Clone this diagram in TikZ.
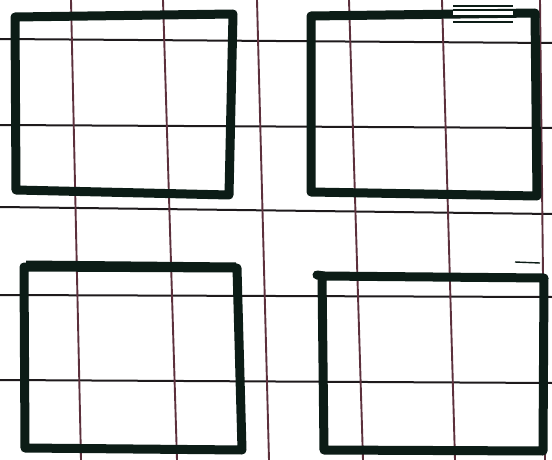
\documentclass[tikz,border=0pt]{standalone}
\definecolor{ink}{RGB}{12,28,22}
\definecolor{hline}{RGB}{30,26,28}
\definecolor{vline}{RGB}{92,48,60}
\tikzset{
  hguide/.style={draw=hline,line width=2pt},
  vguide/.style={draw=vline,line width=1.9pt},
  boxline/.style={draw=ink,line width=9pt,line join=round,line cap=round},
  markline/.style={draw=ink,line width=1.6pt}
}
\begin{document}
\begin{tikzpicture}[x=1pt,y=-1pt]
\useasboundingbox[fill=white] (0,0) rectangle (552,460);
% horizontal guides
\draw[hguide] (0,39) -- (552,43);
\draw[hguide] (0,125) -- (552,128);
\draw[hguide] (0,207) -- (552,214);
\draw[hguide] (0,295) -- (552,297);
\draw[hguide] (0,380) -- (552,383);
% vertical guides
\draw[vguide] (71,0) -- (81,460);
\draw[vguide] (163,0) -- (177,460);
\draw[vguide] (257,0) -- (269,460);
\draw[vguide] (349,0) -- (363,460);
\draw[vguide] (442,0) -- (455,460);
\draw[vguide] (540,0) -- (545,460);
% squares
\draw[boxline] (15,17) -- (233,14) -- (229,195) -- (16,190) -- cycle;
\draw[boxline] (311,16) -- (535,13) -- (537,196) -- (311,192) -- cycle;
\draw[boxline] (24,267) -- (237,268) -- (242,450) -- (25,448) -- cycle;
\draw[draw=ink,line width=5pt] (26,263) -- (236,265);
\draw[boxline] (322,276) -- (544,278) -- (543,451) -- (324,450) -- cycle;
\draw[boxline] (317,275) -- (324,276);
\draw[draw=ink,line width=1.4pt] (515,262) -- (540,263);
% mark on top-right square
\fill[white] (453,10) rectangle (513,16);
\draw[markline] (453,6) -- (513,6);
\draw[markline] (453,10) -- (513,10);
\draw[markline] (453,16) -- (513,16);
\draw[markline] (453,22) -- (513,22);
\end{tikzpicture}
\end{document}
